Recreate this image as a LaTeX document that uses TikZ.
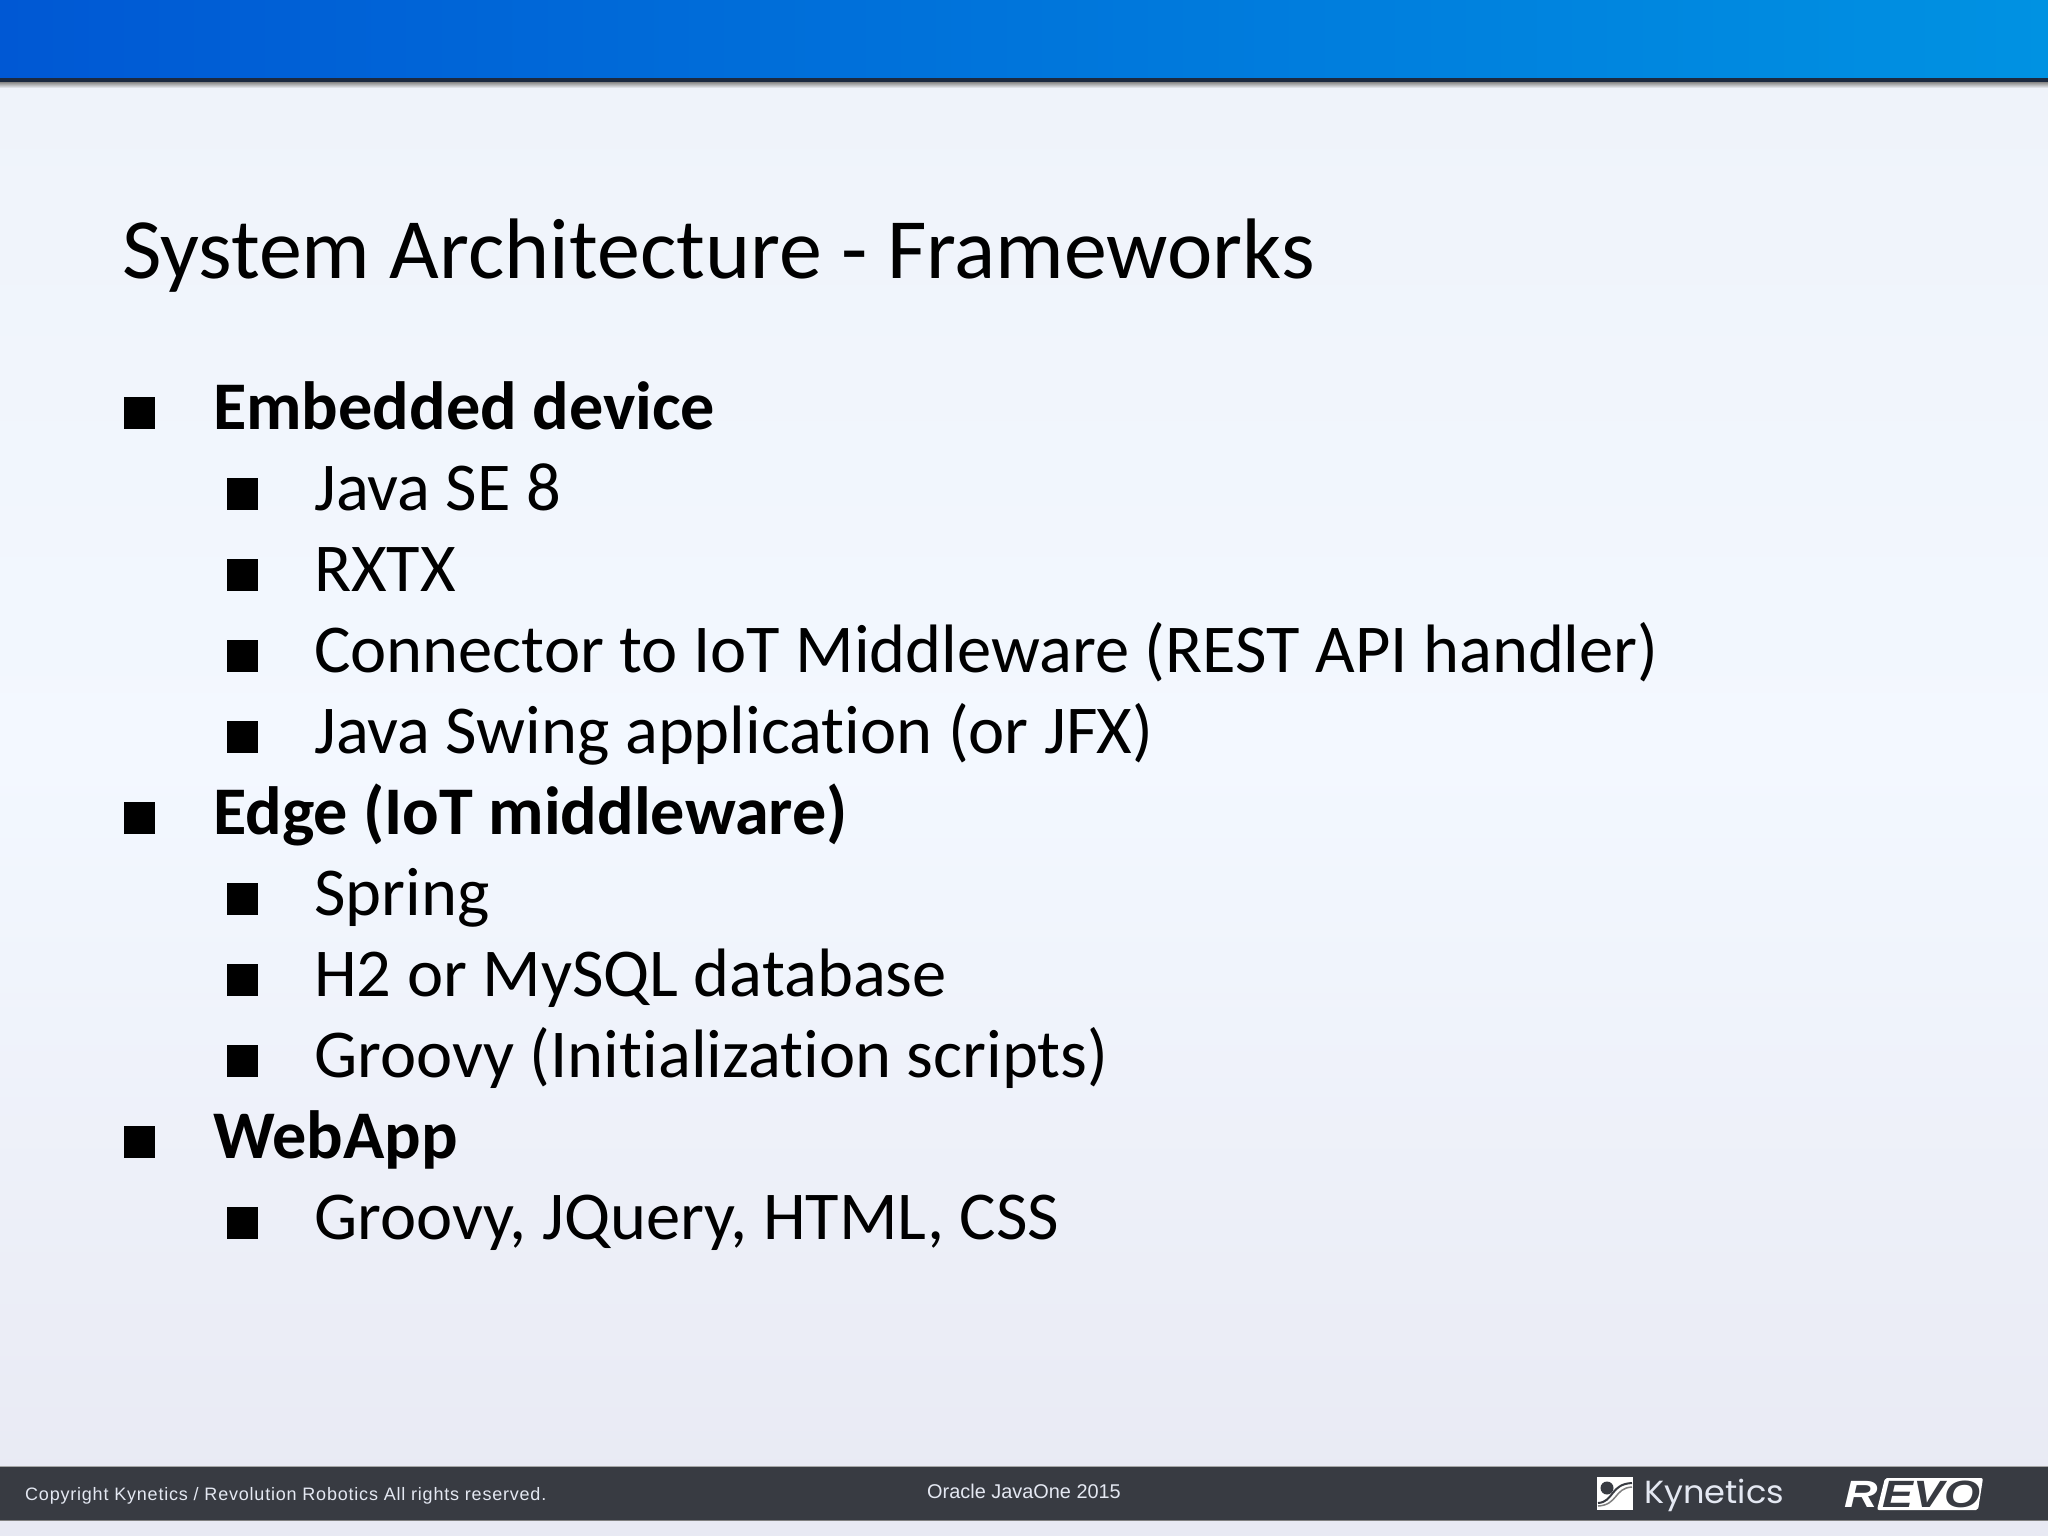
\documentclass[tikz,border=0pt]{standalone}
\usepackage{fontspec}
\setmainfont[Ligatures=NoCommon]{Carlito}
\newfontfamily\footfont{Liberation Sans}
\newfontfamily\copyfont[LetterSpace=4.4]{Liberation Sans}
\newfontfamily\kynfont[FakeStretch=1.05]{Poppins}
\newfontfamily\revofont[FakeStretch=1.22]{Liberation Sans}
\usetikzlibrary{positioning}
\definecolor{barcol}{HTML}{383B42}
\definecolor{foot}{HTML}{E4E8F2}
\definecolor{linecol}{HTML}{1C2A40}
\tikzset{
    titletext/.style={anchor=base west, inner sep=0pt, font=\fontsize{85.9}{94}\selectfont},
    headtext/.style={anchor=base west, inner sep=0pt, font=\fontsize{68.2}{76}\selectfont\bfseries},
    subtext/.style={anchor=base west, inner sep=0pt, font=\fontsize{68.5}{76}\selectfont},
    bulletbox/.style={fill=black, inner sep=0pt, minimum width=31pt, minimum height=32pt},
    foottext/.style={anchor=base west, inner sep=0pt, text=foot},
    revotext/.style={anchor=base west, inner sep=0pt, font=\revofont\fontsize{38}{40}\selectfont\bfseries\itshape}
}
\begin{document}
\begin{tikzpicture}[x=1pt,y=-1pt]
    \useasboundingbox (0,0) rectangle (2048,1536);

    % background and bars
    \shade[top color={rgb,255:red,239;green,243;blue,250}, bottom color={rgb,255:red,243;green,248;blue,255}] (0,80) rectangle (2048,760);
    \shade[top color={rgb,255:red,243;green,248;blue,255}, bottom color={rgb,255:red,232;green,233;blue,243}] (0,760) rectangle (2048,1536);
    \shade[left color={rgb,255:red,0;green,88;blue,212}, middle color={rgb,255:red,0;green,128;blue,224}, right color={rgb,255:red,0;green,146;blue,226}] (0,0) rectangle (2048,78);
    \fill[linecol] (0,78) rectangle (2048,83);
    \shade[top color=black!40, bottom color={rgb,255:red,239;green,243;blue,250}] (0,83) rectangle (2048,88);
    \fill[barcol] (0,1467) rectangle (2048,1520);
    \draw[black!35, line width=1pt] (0,1466.5) -- (2048,1466.5);
    \draw[black!50, line width=1pt] (0,1520) -- (2048,1520);

    % title
    \node[titletext] (title) at (122,278) {System Architecture - Frameworks};

    % first level
    \node[headtext] (embedded) at (213,429) {Embedded device};
    \node[headtext] (edge) at (213,834) {Edge (IoT middleware)};
    \node[headtext] (webapp) at (213,1158) {WebApp};

    % second level
    \node[subtext] (javase) at (314,510) {Java SE 8};
    \node[subtext] (rxtx) at (314,591) {RXTX};
    \node[subtext] (connector) at (314,672) {Connector to IoT Middleware (REST API handler)};
    \node[subtext] (swing) at (314,753) {Java Swing application (or JFX)};
    \node[subtext] (spring) at (314,915) {Spring};
    \node[subtext] (mysql) at (314,996) {H2 or MySQL database};
    \node[subtext] (groovy) at (314,1077) {Groovy (Initialization scripts)};
    \node[subtext] (jquery) at (314,1239) {Groovy, JQuery, HTML, CSS};

    % bullets
    \foreach \y in {413,818,1142}
        \node[bulletbox] at (139.5,\y) {};
    \foreach \y in {494,575,656,737,899,980,1061,1223}
        \node[bulletbox] at (242,\y) {};

    % footer
    \node[foottext, font=\copyfont\fontsize{18}{20}\selectfont] (copy) at (25,1500) {Copyright Kynetics / Revolution Robotics All rights reserved.};
    \node[foottext, font=\footfont\fontsize{19.9}{22}\selectfont] (event) at (927,1498) {Oracle JavaOne 2015};

    % kynetics logo
    \fill[white] (1597,1477) rectangle (1633,1510);
    \fill[barcol] (1607,1488) circle (6.5);
    \draw[barcol, line width=2pt] (1598,1503) .. controls (1614,1502) and (1610,1484) .. (1632,1483);
    \draw[black!50, line width=1.5pt] (1598,1506) .. controls (1618,1505) and (1614,1488) .. (1632,1487);
    \node[foottext, font=\kynfont\fontsize{32}{36}\selectfont] (kynetics) at (1644,1503) {Kynetics};

    % revo logo
    \fill[white, rounded corners=2pt] (1885,1478) -- (1983,1478) -- (1978,1510) -- (1877,1510) -- cycle;
    \node[revotext, text=white] (revor) at (1844,1507) {R};
    \node[revotext, text=barcol] (revoevo) at (1882,1507) {EVO};
\end{tikzpicture}
\end{document}
